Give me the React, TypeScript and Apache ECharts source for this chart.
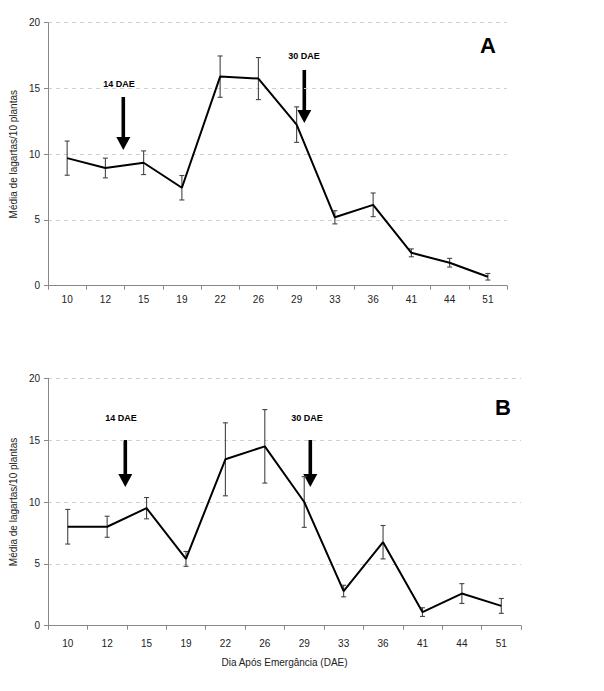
import React, { useEffect, useRef } from "react";
import * as echarts from "echarts";

const categories = ["10", "12", "15", "19", "22", "26", "29", "33", "36", "41", "44", "51"];
const meanA = [9.7, 8.95, 9.35, 7.45, 15.9, 15.75, 12.25, 5.2, 6.15, 2.5, 1.75, 0.68];
const errA = [1.3, 0.75, 0.9, 0.93, 1.57, 1.6, 1.35, 0.5, 0.9, 0.3, 0.33, 0.25];
const meanB = [8.0, 8.0, 9.5, 5.4, 13.45, 14.5, 10.0, 2.8, 6.75, 1.1, 2.6, 1.6];
const errB = [1.4, 0.85, 0.86, 0.6, 2.95, 2.97, 2.05, 0.47, 1.35, 0.35, 0.8, 0.6];
const yTicks = { min: 0, max: 20, interval: 5 };

const FONT = "Liberation Sans, Arial, sans-serif";

function errorData(mean: number[], err: number[]) {
  return mean.map((m, i) => [i, m - err[i], m + err[i]]);
}

const renderErr = (params: any, api: any) => {
  const x = api.value(0);
  const lo = api.coord([x, api.value(1)]);
  const hi = api.coord([x, api.value(2)]);
  const w = 2.5;
  const st = { stroke: "#444", lineWidth: 1.1 };
  return {
    type: "group",
    children: [
      { type: "line", shape: { x1: lo[0], y1: lo[1], x2: hi[0], y2: hi[1] }, style: st },
      { type: "line", shape: { x1: lo[0] - w, y1: lo[1], x2: lo[0] + w, y2: lo[1] }, style: st },
      { type: "line", shape: { x1: hi[0] - w, y1: hi[1], x2: hi[0] + w, y2: hi[1] }, style: st },
    ],
  };
};

function arrow(x: number, top: number, headTop: number, bottom: number) {
  return [
    { type: "rect", shape: { x: x - 1.8, y: top, width: 3.6, height: headTop - top + 1 }, style: { fill: "#000" } },
    {
      type: "polygon",
      shape: { points: [[x - 7, headTop], [x + 7, headTop], [x, bottom]] },
      style: { fill: "#000" },
    },
  ];
}

function label(text: string, x: number, y: number, size: number) {
  return {
    type: "text",
    x,
    y,
    style: {
      text,
      fill: "#000",
      font: `bold ${size}px ${FONT}`,
      align: "center",
      verticalAlign: "middle",
    },
  };
}

export default function App() {
  const ref = useRef<HTMLDivElement>(null);
  useEffect(() => {
    document.body.style.margin = "0";
    if (!ref.current) return;
    const chart = echarts.init(ref.current, null, { renderer: "svg" });
    const axisCommonY = {
      type: "value",
      ...yTicks,
      name: "Média de lagartas/10 plantas",
      nameLocation: "middle",
      nameGap: 23,
      nameTextStyle: { fontFamily: FONT, fontSize: 10, color: "#222" },
      axisLine: { show: true, lineStyle: { color: "#888" } },
      axisTick: { show: true, length: 4, lineStyle: { color: "#888" } },
      axisLabel: { fontFamily: FONT, fontSize: 10, color: "#222", margin: 8 },
      splitLine: { show: true, lineStyle: { color: "#d0d0d0", type: [4, 4] } },
    };
    const axisCommonX = {
      type: "category",
      data: categories,
      axisLine: { show: true, lineStyle: { color: "#888" } },
      axisTick: { show: true, length: 4, lineStyle: { color: "#888" } },
      axisLabel: { fontFamily: FONT, fontSize: 10, color: "#222" },
      splitLine: { show: false },
    };
    chart.setOption({
      animation: false,
      grid: [
        { left: 36, top: 22.7, width: 471, height: 263 },
        { left: 36, top: 378.3, width: 485, height: 247.4 },
      ],
      xAxis: [
        { ...axisCommonX, gridIndex: 0, axisLabel: { ...axisCommonX.axisLabel, margin: 9 } },
        {
          ...axisCommonX,
          gridIndex: 1,
          axisLabel: { ...axisCommonX.axisLabel, margin: 13 },
          name: "Dia Após Emergância (DAE)",
          nameLocation: "middle",
          nameGap: 32,
          nameTextStyle: { fontFamily: FONT, fontSize: 10, color: "#222" },
        },
      ],
      yAxis: [
        { ...axisCommonY, gridIndex: 0 },
        { ...axisCommonY, gridIndex: 1 },
      ],
      series: [
        {
          type: "custom",
          xAxisIndex: 0,
          yAxisIndex: 0,
          renderItem: renderErr,
          data: errorData(meanA, errA),
          z: 1,
        },
        {
          type: "line",
          xAxisIndex: 0,
          yAxisIndex: 0,
          data: meanA,
          symbol: "none",
          lineStyle: { color: "#000", width: 2 },
          z: 2,
        },
        {
          type: "custom",
          xAxisIndex: 1,
          yAxisIndex: 1,
          renderItem: renderErr,
          data: errorData(meanB, errB),
          z: 1,
        },
        {
          type: "line",
          xAxisIndex: 1,
          yAxisIndex: 1,
          data: meanB,
          symbol: "none",
          lineStyle: { color: "#000", width: 2 },
          z: 2,
        },
      ],
      graphic: [
        label("14 DAE", 119, 84, 9),
        ...arrow(123.3, 97, 137, 150),
        label("30 DAE", 304, 56, 9),
        ...arrow(304.3, 70, 110, 123),
        label("A", 488, 45, 22),
        label("14 DAE", 121, 418, 9),
        ...arrow(125.3, 440, 474, 487),
        label("30 DAE", 307, 418, 9),
        ...arrow(310.3, 440, 474, 487),
        label("B", 503, 407, 22),
      ],
    });
    return () => chart.dispose();
  }, []);
  return <div ref={ref} style={{ width: 604, height: 691 }} />;
}
